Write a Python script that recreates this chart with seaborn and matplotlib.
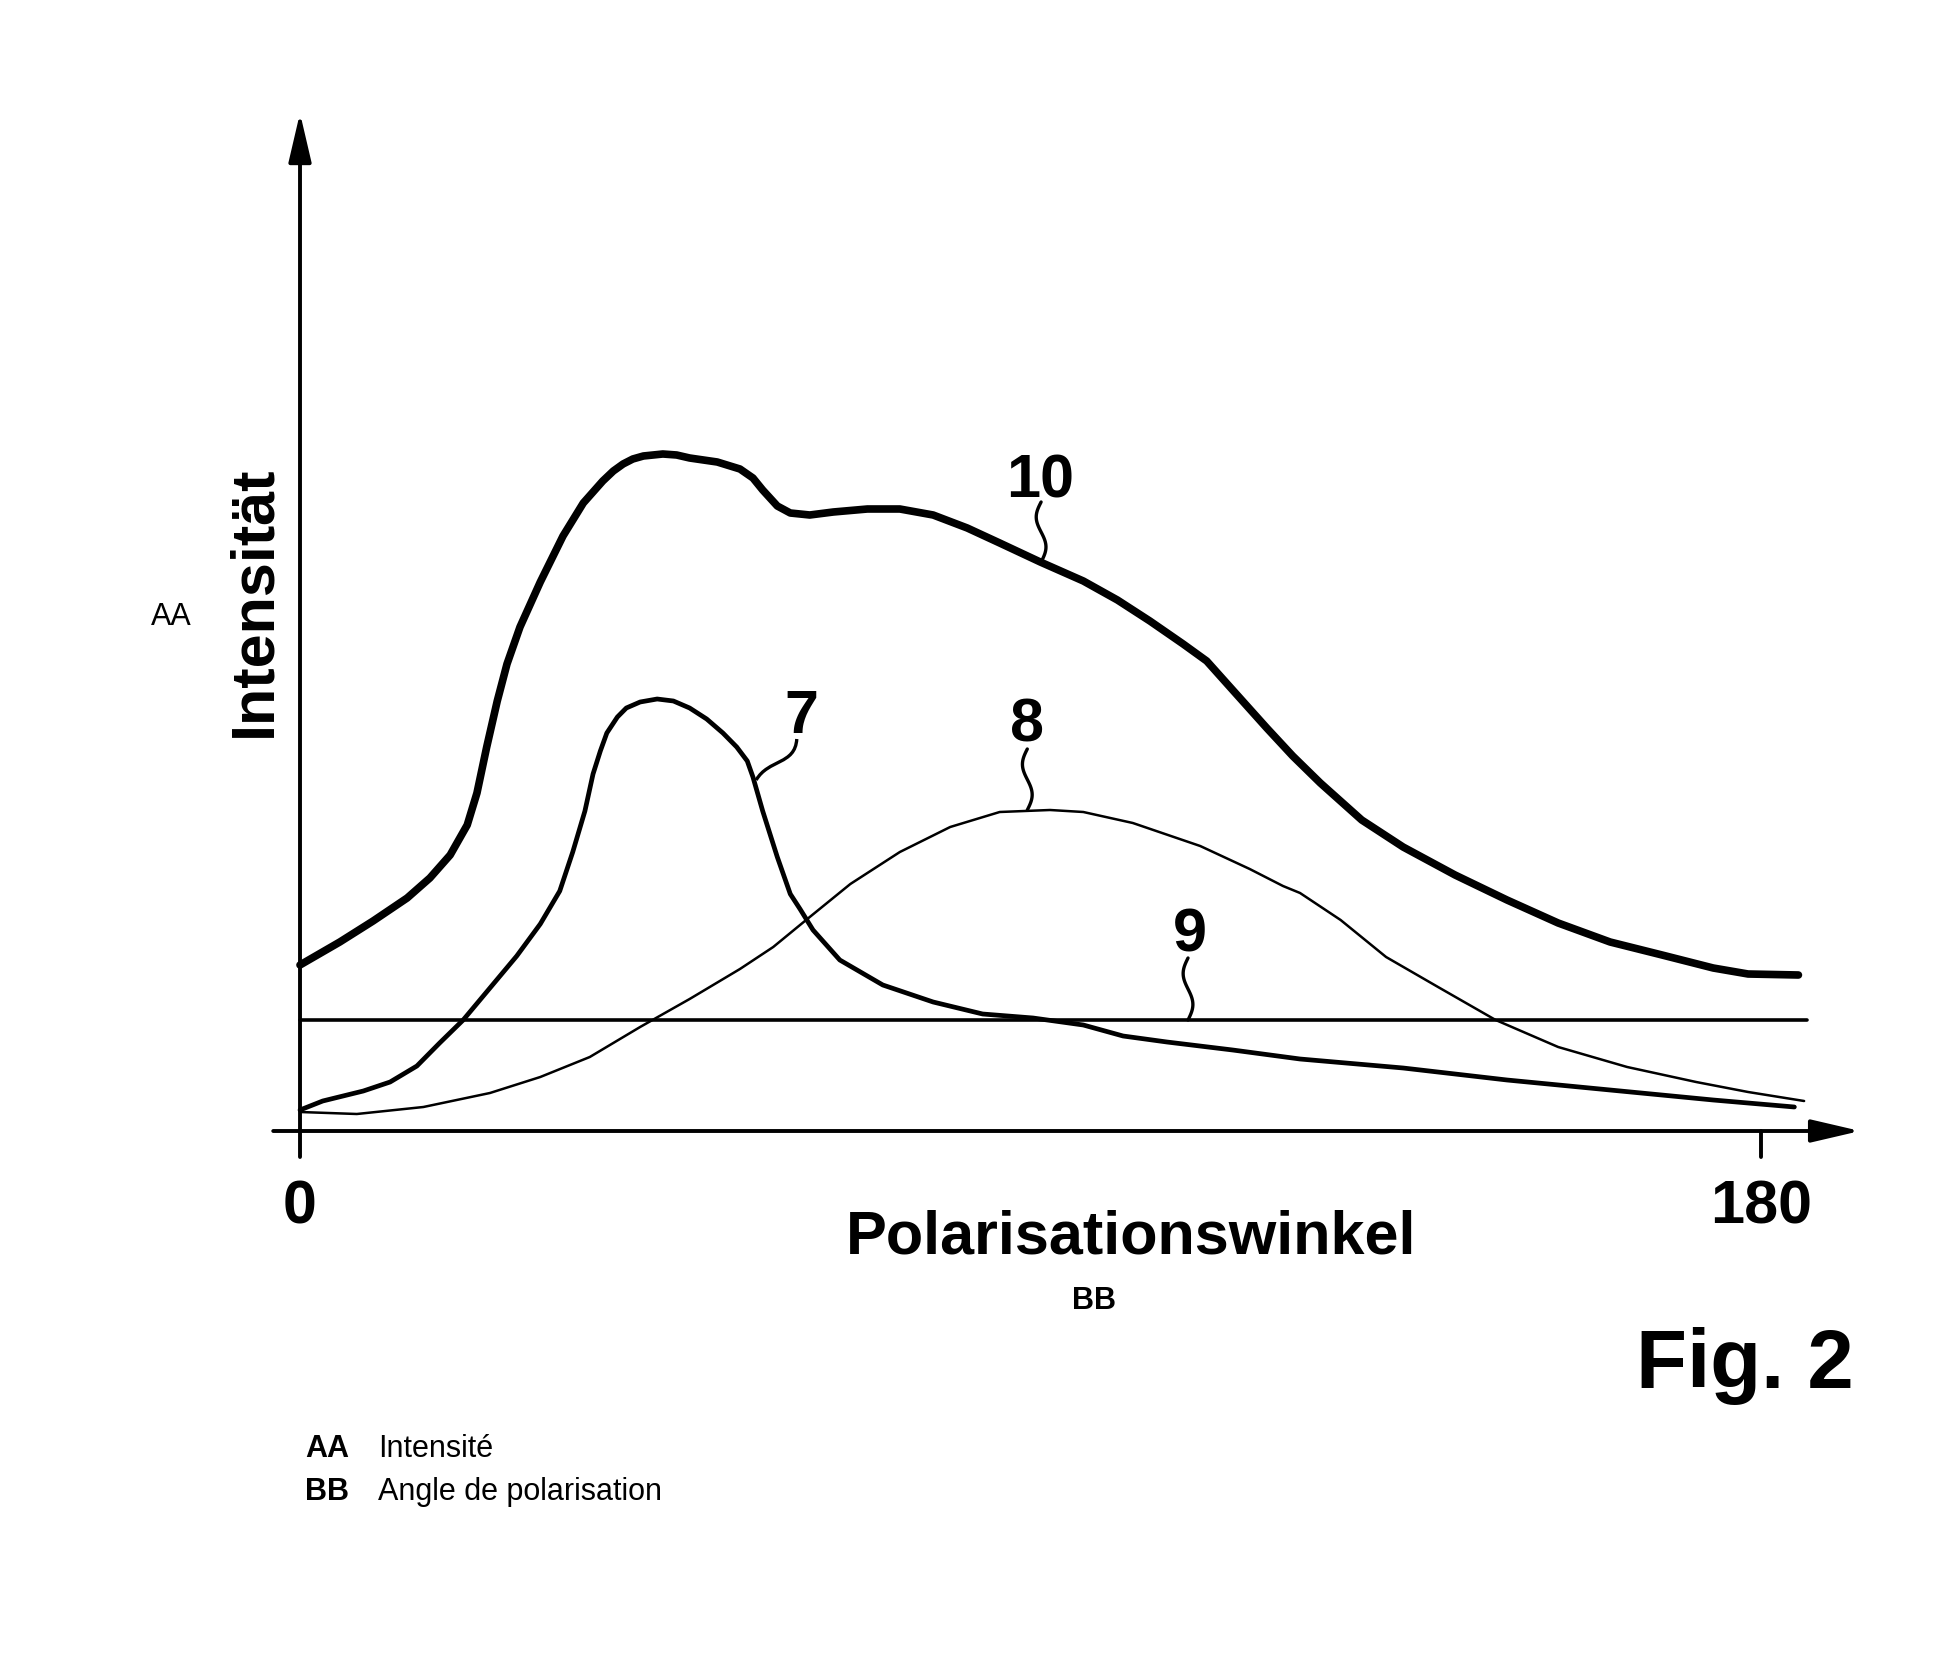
import numpy as np
import matplotlib
matplotlib.use('Agg')
import matplotlib.pyplot as plt
from matplotlib.path import Path
from matplotlib.patches import PathPatch
import seaborn as sns

# Kurve 10 (Summe, dick)
winkel_10 = [0, 4.9, 9.0, 13.2, 16.0, 18.5, 20.6, 21.8, 23.0, 24.3, 25.5, 27.1, 29.6, 32.4,
             34.9, 37.3, 38.6, 39.8, 41.0, 42.3, 44.7, 46.4, 48.0, 51.4, 54.2, 55.8, 57.0,
             58.8, 60.4, 62.8, 65.7, 69.9, 73.9, 78.0, 82.2, 86.2, 91.2, 96.5, 100.7, 104.7,
             108.8, 111.7, 114.9, 119.1, 122.3, 125.7, 130.8, 135.9, 142.3, 148.7, 155.0,
             161.4, 167.8, 174.1, 178.4, 184.6]
int_10 = [1.66, 1.89, 2.10, 2.33, 2.53, 2.76, 3.06, 3.38, 3.84, 4.30, 4.67, 5.04, 5.49, 5.95,
          6.28, 6.50, 6.60, 6.67, 6.72, 6.75, 6.77, 6.76, 6.73, 6.69, 6.62, 6.53, 6.41,
          6.25, 6.18, 6.16, 6.19, 6.22, 6.22, 6.16, 6.03, 5.88, 5.69, 5.50, 5.31, 5.10,
          4.87, 4.70, 4.41, 4.03, 3.75, 3.48, 3.11, 2.84, 2.56, 2.31, 2.08,
          1.89, 1.76, 1.63, 1.57, 1.56]

# Kurve 7
winkel_7 = [0, 2.8, 7.8, 11.1, 14.4, 17.2, 20.1, 23.4, 26.7, 29.6, 32.0, 33.6, 35.1, 36.1,
            37.0, 37.8, 39.1, 40.2, 41.9, 44.0, 46.0, 48.0, 50.1, 52.1, 53.8, 55.1, 55.8,
            57.0, 58.8, 60.4, 61.6, 63.2, 66.5, 71.8, 78.0, 84.1, 90.3, 96.5, 101.4, 106.8,
            114.9, 123.2, 135.9, 148.7, 161.4, 174.1, 184.1]
int_7 = [0.21, 0.30, 0.40, 0.49, 0.65, 0.88, 1.11, 1.43, 1.75, 2.07, 2.40, 2.79, 3.20, 3.57,
         3.80, 3.98, 4.14, 4.23, 4.29, 4.32, 4.30, 4.23, 4.12, 3.98, 3.84, 3.70, 3.54,
         3.20, 2.74, 2.37, 2.22, 2.01, 1.71, 1.46, 1.29, 1.17, 1.13, 1.06, 0.95, 0.89,
         0.81, 0.72, 0.63, 0.51, 0.41, 0.31, 0.24]

# Kurve 8 (duenn)
winkel_8 = [0, 7.0, 15.2, 23.4, 29.6, 35.7, 41.9, 48.0, 54.2, 58.3, 62.8, 67.8, 73.9, 80.1,
            86.2, 92.4, 96.5, 102.6, 110.9, 117.0, 121.1, 123.2, 128.2, 133.8, 140.2, 147.3,
            155.0, 163.5, 172.0, 178.4, 185.3]
int_8 = [0.19, 0.17, 0.24, 0.38, 0.54, 0.74, 1.04, 1.32, 1.62, 1.84, 2.14, 2.47, 2.79, 3.04,
         3.19, 3.21, 3.19, 3.08, 2.85, 2.62, 2.45, 2.38, 2.11, 1.74, 1.44, 1.11,
         0.84, 0.64, 0.49, 0.39, 0.30]

# Kurve 9 (konstant)
winkel_9 = [0, 185.6]
int_9 = [1.11, 1.11]

# Bezugszeichen: (text, x, y baseline)
labels = [('10', 91.2, 6.34), ('7', 61.8, 3.98), ('8', 89.6, 3.89), ('9', 109.6, 1.79)]

sns.set_theme(style='white')
plt.rcParams['font.family'] = ['Liberation Sans', 'DejaVu Sans']
plt.rcParams['text.color'] = 'black'

fig = plt.figure(figsize=(19.49, 16.53), dpi=100)
ax = fig.add_axes([0, 0, 1, 1])
ax.set_xlim(-36.96, 203.15)
ax.set_ylim(-5.22, 11.31)
ax.set_axis_off()

sns.lineplot(x=winkel_9, y=int_9, sort=False, estimator=None, color='black', linewidth=2.6, ax=ax)
sns.lineplot(x=winkel_8, y=int_8, sort=False, estimator=None, color='black', linewidth=1.8,
             solid_capstyle='round', ax=ax)
sns.lineplot(x=winkel_7, y=int_7, sort=False, estimator=None, color='black', linewidth=3.4,
             solid_capstyle='round', ax=ax)
sns.lineplot(x=winkel_10, y=int_10, sort=False, estimator=None, color='black', linewidth=5.5,
             solid_capstyle='round', ax=ax)

# Achsen mit Pfeilen
pfeil = dict(arrowstyle='-|>,head_length=3.0,head_width=0.7', mutation_scale=10, lw=2.8,
             color='black', shrinkA=0, shrinkB=0)
ax.annotate('', xy=(192.2, 0), xytext=(-3.3, 0), arrowprops=pfeil)
ax.annotate('', xy=(0, 10.18), xytext=(0, -0.26), arrowprops=pfeil)
ax.plot([180, 180], [0, -0.26], color='black', lw=2.8)

# Bezugszeichen mit Schlangenlinien
gross = dict(fontsize=44, fontweight='bold', color='black', ha='center', va='baseline')
for txt, lx, ly in labels:
    ax.text(lx, ly, txt, **gross)

def schlange(x0, y_oben, y_unten, amp=0.6):
    t = np.linspace(0, 1, 40)
    ax.plot(x0 - amp * np.sin(2 * np.pi * t), y_oben + (y_unten - y_oben) * t,
            color='black', lw=2.4, solid_capstyle='round')

schlange(91.3, 6.29, 5.69)
schlange(89.6, 3.82, 3.21)
schlange(109.4, 1.73, 1.11)
pfad = Path([(61.2, 3.92), (61.0, 3.66), (57.7, 3.72), (56.2, 3.51)],
            [Path.MOVETO, Path.CURVE4, Path.CURVE4, Path.CURVE4])
ax.add_patch(PathPatch(pfad, fill=False, lw=2.4, color='black'))

# Achsenbeschriftungen
ax.text(0, -0.93, '0', **gross)
ax.text(180, -0.93, '180', **gross)
ax.text(102.4, -1.22, 'Polarisationswinkel', **gross)
ax.text(-3.7, 5.30, 'Intensität', fontsize=44, fontweight='bold', color='black', rotation=90,
        rotation_mode='anchor', ha='center', va='baseline')
ax.text(-15.8, 5.06, 'AA', fontsize=22, color='black', ha='center', va='baseline')
ax.text(97.8, -1.78, 'BB', fontsize=22, fontweight='bold', color='black',
        ha='center', va='baseline')

# Legende unten
fig.text(0.1565, 0.1186, 'AA', fontsize=22, fontweight='bold', color='black')
fig.text(0.194, 0.1186, 'Intensité', fontsize=22, color='black')
fig.text(0.1565, 0.0926, 'BB', fontsize=22, fontweight='bold', color='black')
fig.text(0.194, 0.0926, 'Angle de polarisation', fontsize=22, color='black')
fig.text(0.8953, 0.1603, 'Fig. 2', fontsize=60, fontweight='bold', color='black',
         ha='center', va='baseline')

fig.savefig('out.png', dpi=100, facecolor='white')
